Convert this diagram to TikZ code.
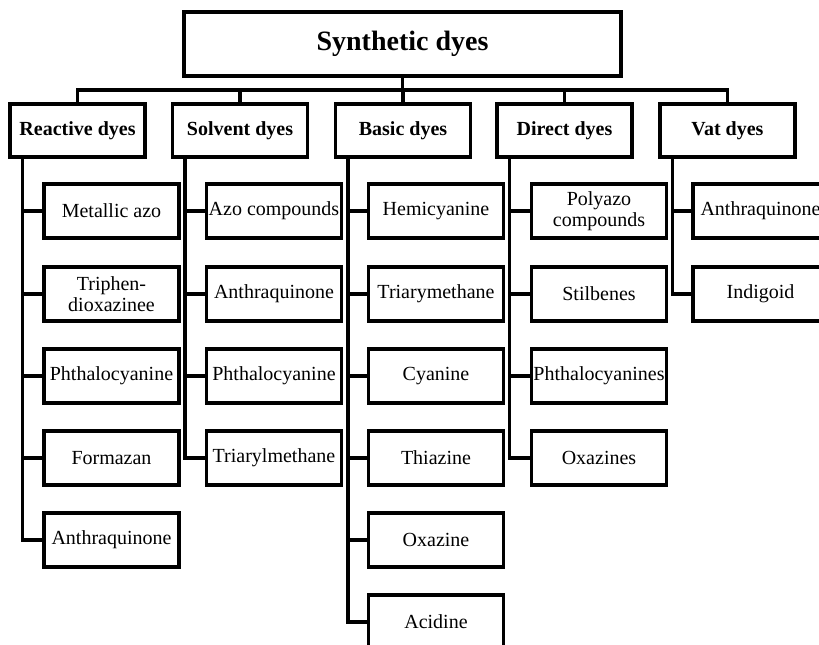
\documentclass[tikz,border=0pt]{standalone}
\usepackage{fontspec}
\setmainfont{Liberation Serif}
\begin{document}
\begin{tikzpicture}[
        x=0.5pt, y=-0.5pt,
        line width=1.6pt,
        root/.style ={draw, minimum width=218.5pt, minimum height=32pt, font=\fontsize{14}{16}\selectfont\bfseries},
        family/.style ={draw, minimum width=67.5pt, minimum height=26.5pt, inner sep=0pt, font=\fontsize{10}{11}\selectfont\bfseries},
        member/.style ={draw, minimum width=67.5pt, minimum height=27pt, inner sep=0pt, align=center, font=\fontsize{10}{10.5}\selectfont},
    ]
    \useasboundingbox (0,0) rectangle (819,644);

    \node[root] (synth) at (402.5,44) {Synthetic dyes};

    \node[family] (reactive) at (77.5,130.5) {Reactive dyes};
    \node[family] (solvent) at (240,130.5) {Solvent dyes};
    \node[family] (basic) at (403,130.5) {Basic dyes};
    \node[family] (direct) at (564.5,130.5) {Direct dyes};
    \node[family] (vat) at (727.5,130.5) {Vat dyes};

    % reactive
    \node[member] (r1) at (111.5,211) {Metallic azo};
    \node[member] (r2) at (111.5,294) {Triphen-\\dioxazinee};
    \node[member] (r3) at (111.5,376) {Phthalocyanine};
    \node[member] (r4) at (111.5,458) {Formazan};
    \node[member] (r5) at (111.5,540) {Anthraquinone};
    % solvent
    \node[member] (s1) at (274,211) {Azo compounds};
    \node[member] (s2) at (274,294) {Anthraquinone};
    \node[member] (s3) at (274,376) {Phthalocyanine};
    \node[member] (s4) at (274,458) {Triarylmethane};
    % basic
    \node[member] (b1) at (436,211) {Hemicyanine};
    \node[member] (b2) at (436,294) {Triarymethane};
    \node[member] (b3) at (436,376) {Cyanine};
    \node[member] (b4) at (436,458) {Thiazine};
    \node[member] (b5) at (436,540) {Oxazine};
    \node[member] (b6) at (436,622) {Acidine};
    % direct
    \node[member] (d1) at (599,211) {Polyazo\\compounds};
    \node[member] (d2) at (599,294) {Stilbenes};
    \node[member] (d3) at (599,376) {Phthalocyanines};
    \node[member] (d4) at (599,458) {Oxazines};
    % vat
    \node[member] (v1) at (760.5,211) {Anthraquinone};
    \node[member] (v2) at (760.5,294) {Indigoid};

    % bus
    \coordinate (bus) at (402.5,90);
    \draw (synth.south) -- (bus);
    \draw (reactive.north) |- (bus);
    \draw (solvent.north) |- (bus);
    \draw (basic.north) |- (bus);
    \draw (direct.north) |- (bus);
    \draw (vat.north) |- (bus);

    % trunks
    \coordinate (rt) at ([xshift=7pt]reactive.south west);
    \coordinate (st) at ([xshift=7pt]solvent.south west);
    \coordinate (bt) at ([xshift=7pt]basic.south west);
    \coordinate (dt) at ([xshift=7pt]direct.south west);
    \coordinate (vt) at ([xshift=7pt]vat.south west);

    \draw (rt) |- (r5.west);
    \draw (rt |- r1) -- (r1.west);
    \draw (rt |- r2) -- (r2.west);
    \draw (rt |- r3) -- (r3.west);
    \draw (rt |- r4) -- (r4.west);

    \draw (st) |- (s4.west);
    \draw (st |- s1) -- (s1.west);
    \draw (st |- s2) -- (s2.west);
    \draw (st |- s3) -- (s3.west);

    \draw (bt) |- (b6.west);
    \draw (bt |- b1) -- (b1.west);
    \draw (bt |- b2) -- (b2.west);
    \draw (bt |- b3) -- (b3.west);
    \draw (bt |- b4) -- (b4.west);
    \draw (bt |- b5) -- (b5.west);

    \draw (dt) |- (d4.west);
    \draw (dt |- d1) -- (d1.west);
    \draw (dt |- d2) -- (d2.west);
    \draw (dt |- d3) -- (d3.west);

    \draw (vt) |- (v2.west);
    \draw (vt |- v1) -- (v1.west);

\end{tikzpicture}
\end{document}
